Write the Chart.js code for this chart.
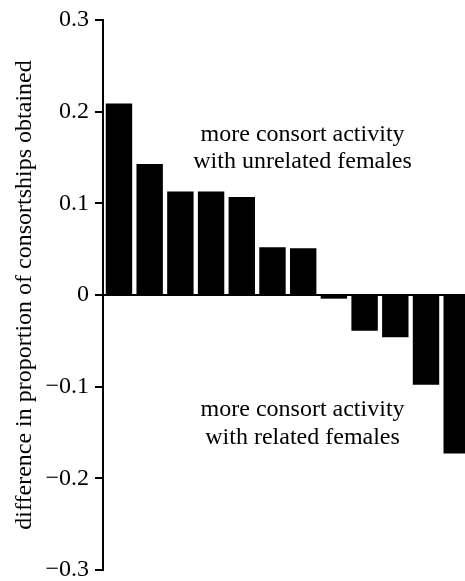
<!DOCTYPE html>
<html>
<head>
<meta charset="utf-8">
<script src="https://cdn.jsdelivr.net/npm/chart.js@4.4.1/dist/chart.umd.min.js"></script>
<style>
  body { margin: 0; background: #fff; }
  #wrap { width: 465px; height: 581px; }
</style>
</head>
<body>
<div id="wrap"><canvas id="bar_chart"></canvas></div>
<script>
// values, left to right
const positions = [0, 1, 2, 3, 4, 5, 6, 7, 8, 9, 10, 11];
const differences = [0.209, 0.143, 0.113, 0.113, 0.107, 0.052, 0.051, -0.004, -0.039, -0.046, -0.098, -0.173];
const yTicks = [-0.3, -0.2, -0.1, 0, 0.1, 0.2, 0.3];
const yTitle = 'difference in proportion of consortships obtained';
const notes = [
  { lines: ['more consort activity', 'with unrelated females'], x: 5.98, y: [0.168, 0.139] },
  { lines: ['more consort activity', 'with related females'], x: 5.98, y: [-0.1325, -0.163] }
];

const serif = '"Liberation Serif", "Times New Roman", serif';

const fmt = v => {
  if (Math.abs(v) < 1e-9) return '0';
  const s = Math.abs(v).toFixed(1);
  return v < 0 ? '\u2212' + s : s;
};

// text labels placed with the chart scales
const notesPlugin = {
  id: 'notes',
  afterDatasetsDraw(chart) {
    const { ctx, scales } = chart;
    ctx.save();
    ctx.fillStyle = '#000';
    ctx.font = '24px ' + serif;
    ctx.textAlign = 'center';
    ctx.textBaseline = 'alphabetic';
    notes.forEach(n => {
      n.lines.forEach((t, i) => {
        ctx.fillText(t, scales.x.getPixelForValue(n.x), scales.y.getPixelForValue(n.y[i]));
      });
    });
    ctx.restore();
  }
};

const config = {
  type: 'bar',
  data: {
    datasets: [{
      data: positions.map((p, i) => ({ x: p, y: differences[i] })),
      backgroundColor: '#000',
      borderWidth: 0,
      barPercentage: 0.86,
      categoryPercentage: 1
    }]
  },
  options: {
    responsive: true,
    maintainAspectRatio: false,
    animation: false,
    layout: { padding: { left: 0, right: 0, top: 20, bottom: 11 } },
    plugins: { legend: { display: false }, tooltip: { enabled: false } },
    scales: {
      x: {
        type: 'linear',
        display: false,
        min: -0.52,
        max: 11.27,
        offset: false
      },
      y: {
        min: -0.3,
        max: 0.3,
        afterFit(scale) { scale.width = 103; scale.paddingTop = 0; scale.paddingBottom = 0; },
        afterBuildTicks(scale) { scale.ticks = yTicks.map(v => ({ value: v })); },
        border: { display: true, color: '#000', width: 2 },
        grid: {
          drawOnChartArea: true,
          color: c => (c.tick && Math.abs(c.tick.value) < 1e-9) ? '#000' : 'rgba(0,0,0,0)',
          lineWidth: 2,
          tickColor: '#000',
          tickLength: 8,
          tickWidth: 2
        },
        ticks: {
          color: '#000',
          padding: 6,
          font: { family: serif, size: 24, lineHeight: 0.4 },
          callback: v => fmt(v)
        },
        title: {
          display: true,
          text: yTitle,
          color: '#000',
          padding: { top: 10, bottom: 0 },
          font: { family: serif, size: 24 }
        }
      }
    }
  },
  plugins: [notesPlugin]
};

const bar_chart = new Chart(document.getElementById('bar_chart'), config);
</script>
</body>
</html>
